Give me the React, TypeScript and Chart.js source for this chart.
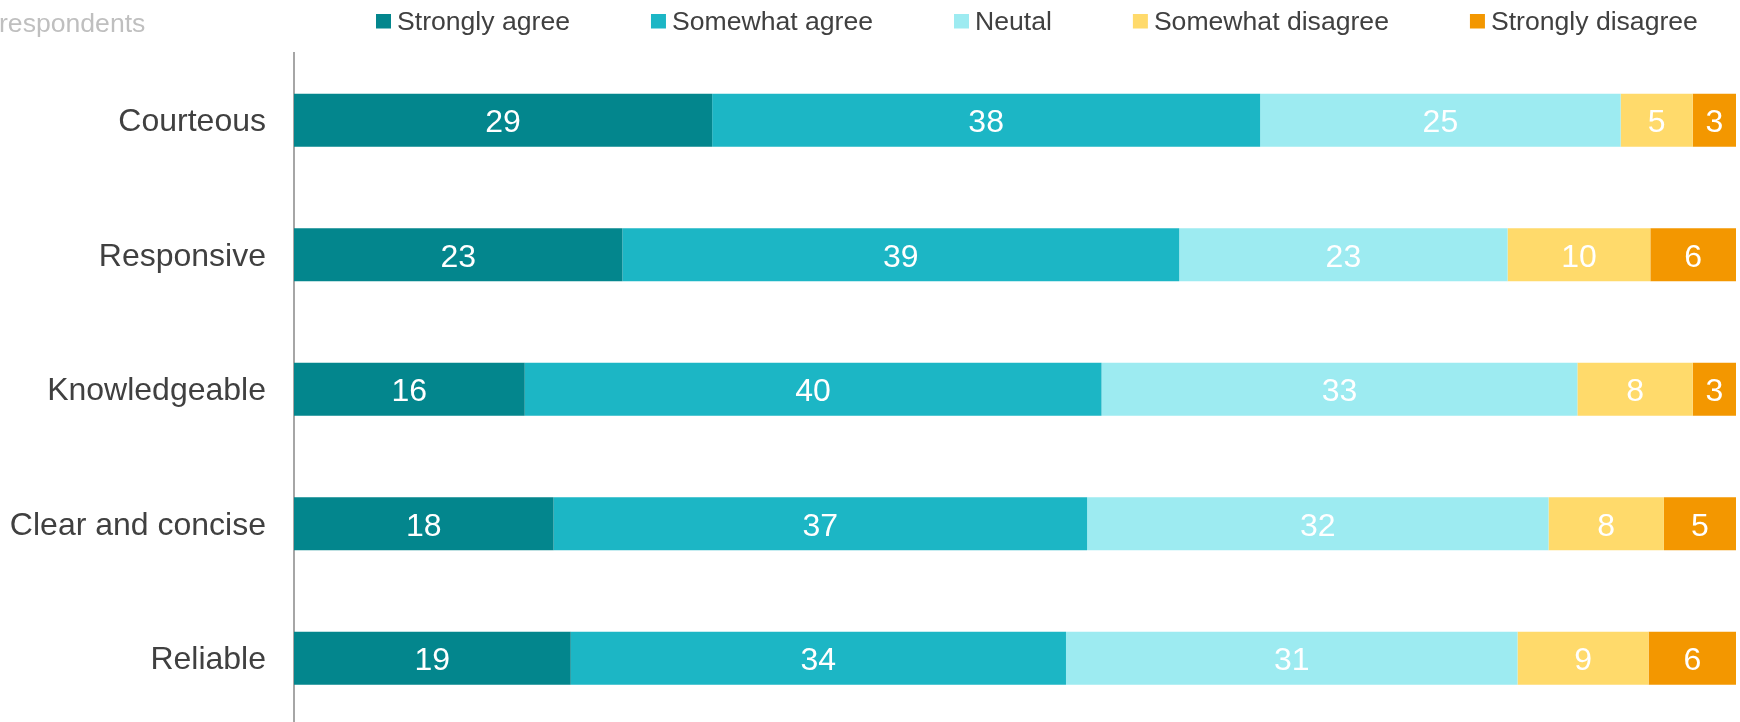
import React, { useEffect, useRef } from 'react';
import { Chart, registerables } from 'chart.js';

Chart.register(...registerables);

const categories = ['Courteous', 'Responsive', 'Knowledgeable', 'Clear and concise', 'Reliable'];
const seriesNames = ['Strongly agree', 'Somewhat agree', 'Neutal', 'Somewhat disagree', 'Strongly disagree'];
const stronglyAgree = [29, 23, 16, 18, 19];
const somewhatAgree = [38, 39, 40, 37, 34];
const neutral = [25, 23, 33, 32, 31];
const somewhatDisagree = [5, 10, 8, 8, 9];
const stronglyDisagree = [3, 6, 3, 5, 6];
const seriesColors = ['#03868d', '#1cb6c5', '#9debf1', '#ffda6b', '#f39700'];
const axisTitle = 'respondents';

const FONT = '"Liberation Sans", Arial, Helvetica, sans-serif';

const allSeries = [stronglyAgree, somewhatAgree, neutral, somewhatDisagree, stronglyDisagree];
const rowTotals = categories.map((_, i) => allSeries.reduce((s, arr) => s + arr[i], 0));

const overlayPlugin = {
  id: 'overlay',
  afterDatasetsDraw(chart: any) {
    const ctx = chart.ctx;
    ctx.save();
    // category labels
    const yScale = chart.scales.y;
    ctx.font = `32px ${FONT}`;
    ctx.fillStyle = '#404040';
    ctx.textAlign = 'right';
    ctx.textBaseline = 'middle';
    categories.forEach((c, i) => {
      ctx.fillText(c, chart.chartArea.left - 28, yScale.getPixelForValue(i) + 2);
    });
    // value labels
    ctx.fillStyle = '#ffffff';
    ctx.textAlign = 'center';
    chart.data.datasets.forEach((ds: any, di: number) => {
      const meta = chart.getDatasetMeta(di);
      meta.data.forEach((el: any, i: number) => {
        const p = el.getProps(['x', 'y', 'base'], true);
        const cx = (p.x + p.base) / 2;
        ctx.fillText(String(allSeries[di][i]), cx, p.y + 3);
      });
    });
    // legend
    ctx.font = `26.6px ${FONT}`;
    ctx.textAlign = 'left';
    ctx.textBaseline = 'alphabetic';
    let x = 376;
    seriesNames.forEach((name, i) => {
      ctx.fillStyle = seriesColors[i];
      ctx.fillRect(x, 14, 15, 14.5);
      ctx.fillStyle = '#404040';
      ctx.fillText(name, x + 21, 29.5);
      x += 21 + ctx.measureText(name).width + 81;
    });
    // axis title (clipped at left)
    ctx.fillStyle = '#bfbfbf';
    ctx.fillText(axisTitle, -1, 32);
    ctx.restore();
  },
};

export default function App() {
  const canvasRef = useRef<HTMLCanvasElement | null>(null);

  useEffect(() => {
    if (!canvasRef.current) return;
    const chart = new Chart(canvasRef.current, {
      type: 'bar',
      data: {
        labels: categories,
        datasets: seriesNames.map((name, di) => ({
          label: name,
          data: allSeries[di].map((v, i) => (v / rowTotals[i]) * 100),
          backgroundColor: seriesColors[di],
          borderWidth: 0,
          barPercentage: 1,
          categoryPercentage: 0.394,
        })),
      },
      options: {
        indexAxis: 'y',
        animation: false,
        responsive: false,
        maintainAspectRatio: false,
        layout: { padding: { top: 53, bottom: 4.5, left: 0, right: 4 } },
        plugins: {
          legend: { display: false },
          tooltip: { enabled: false },
          title: { display: false },
        },
        scales: {
          x: {
            stacked: true,
            min: 0,
            max: 100,
            display: false,
          },
          y: {
            stacked: true,
            grid: { display: false, drawTicks: false },
            border: { display: true, color: '#a6a6a6', width: 2 },
            ticks: { display: false },
            afterFit(scale: any) {
              scale.width = 294;
              scale.paddingTop = 0;
              scale.paddingBottom = 0;
            },
          },
        },
      },
      plugins: [overlayPlugin],
    } as any);
    return () => chart.destroy();
  }, []);

  return (
    <div
      style={{
        position: 'fixed',
        left: 0,
        top: 0,
        width: 1740,
        height: 722,
        overflow: 'hidden',
        background: '#ffffff',
      }}
    >
      <canvas ref={canvasRef} width={1740} height={730} style={{ display: 'block' }} />
    </div>
  );
}
